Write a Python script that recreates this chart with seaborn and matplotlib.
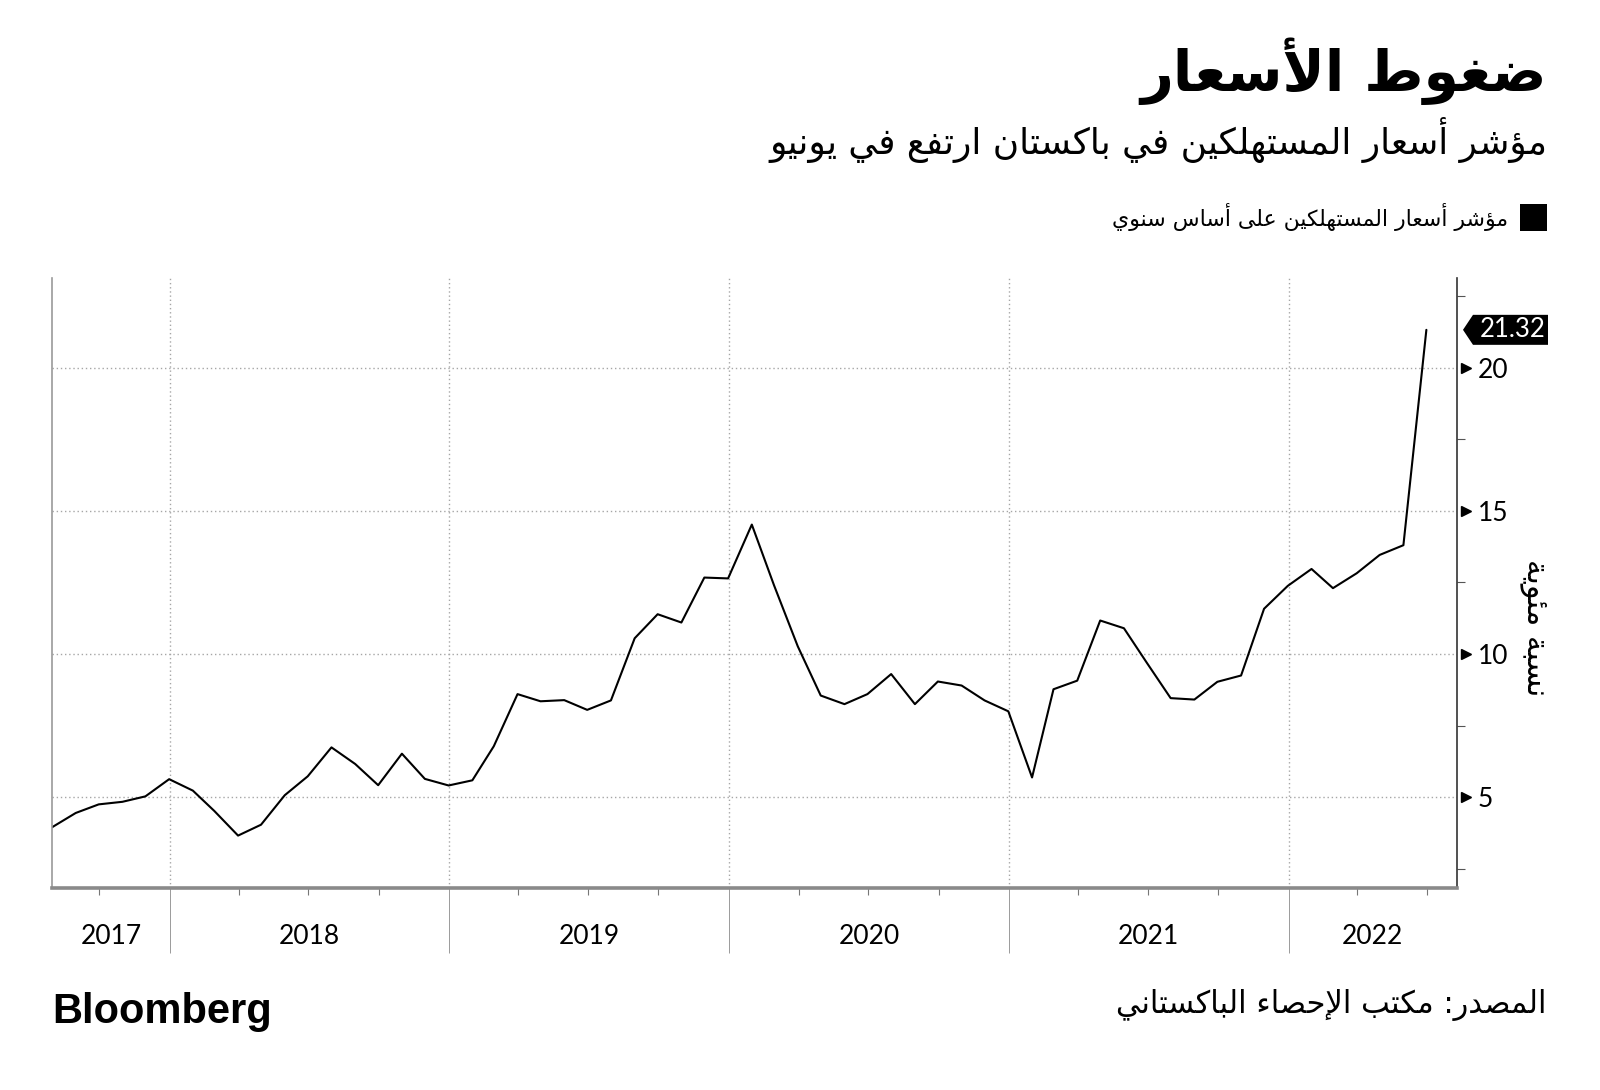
import numpy as np
import pandas as pd
import matplotlib
matplotlib.use("Agg")
import matplotlib.pyplot as plt
import matplotlib.dates as mdates
import matplotlib.transforms as mtransforms
from matplotlib.patches import Polygon, Rectangle
import seaborn as sns

# ---------------- data ----------------
start_month = "2017-07"
cpi_2017 = [3.95, 4.45, 4.75, 4.84, 5.03, 5.63]
cpi_2018 = [5.23, 4.52, 3.66, 4.04, 5.07, 5.73, 6.74, 6.16, 5.42, 6.52, 5.64, 5.41]
cpi_2019 = [5.59, 6.78, 8.60, 8.35, 8.39, 8.05, 8.38, 10.55, 11.39, 11.10, 12.67, 12.64]
cpi_2020 = [14.52, 12.40, 10.27, 8.55, 8.25, 8.60, 9.30, 8.25, 9.04, 8.90, 8.38, 8.00]
cpi_2021 = [5.69, 8.77, 9.07, 11.17, 10.90, 9.69, 8.46, 8.41, 9.03, 9.25, 11.58, 12.38]
cpi_2022 = [12.97, 12.30, 12.82, 13.46, 13.80, 21.32]
years = [2017, 2018, 2019, 2020, 2021, 2022]
y_ticks = [5, 10, 15, 20]

title = "ضغوط الأسعار"
subtitle = "مؤشر أسعار المستهلكين في باكستان ارتفع في يونيو"
legend_label = "مؤشر أسعار المستهلكين على أساس سنوي"
y_label = "نسبة مئوية"
source = "المصدر: مكتب الإحصاء الباكستاني"

values = cpi_2017 + cpi_2018 + cpi_2019 + cpi_2020 + cpi_2021 + cpi_2022
dates = pd.date_range(start=start_month, periods=len(values), freq="ME")
df = pd.DataFrame({"date": dates, "cpi": values})

# ---------------- minimal Arabic shaping ----------------
DUAL = {0x626: 0xFE89, 0x628: 0xFE8F, 0x62A: 0xFE95, 0x62B: 0xFE99, 0x62C: 0xFE9D,
        0x62D: 0xFEA1, 0x62E: 0xFEA5, 0x633: 0xFEB1, 0x634: 0xFEB5, 0x635: 0xFEB9,
        0x636: 0xFEBD, 0x637: 0xFEC1, 0x638: 0xFEC5, 0x639: 0xFEC9, 0x63A: 0xFECD,
        0x641: 0xFED1, 0x642: 0xFED5, 0x643: 0xFED9, 0x644: 0xFEDD, 0x645: 0xFEE1,
        0x646: 0xFEE5, 0x647: 0xFEE9, 0x64A: 0xFEF1}
RIGHT = {0x622: 0xFE81, 0x623: 0xFE83, 0x624: 0xFE85, 0x625: 0xFE87, 0x627: 0xFE8D,
         0x629: 0xFE93, 0x62F: 0xFEA9, 0x630: 0xFEAB, 0x631: 0xFEAD, 0x632: 0xFEAF,
         0x648: 0xFEED, 0x649: 0xFEEF}
LAMALEF = {0x622: 0xFEF5, 0x623: 0xFEF7, 0x625: 0xFEF9, 0x627: 0xFEFB}


def shape(s):
    units = []
    i = 0
    while i < len(s):
        c = ord(s[i])
        if c == 0x644 and i + 1 < len(s) and ord(s[i + 1]) in LAMALEF:
            units.append(("LA", ord(s[i + 1])))
            i += 2
        else:
            units.append(("C", c))
            i += 1

    def joins_next(u):
        return u[0] == "C" and u[1] in DUAL

    def joins_prev(u):
        return u[0] == "LA" or u[1] in DUAL or u[1] in RIGHT

    out = []
    for k, u in enumerate(units):
        t, c = u
        prev = units[k - 1] if k > 0 else None
        nxt = units[k + 1] if k + 1 < len(units) else None
        cp = prev is not None and joins_next(prev) and joins_prev(u)
        cn = nxt is not None and joins_next(u) and joins_prev(nxt)
        if t == "LA":
            out.append(chr(LAMALEF[c] + (1 if cp else 0)))
        elif c in DUAL:
            form = 3 if (cp and cn) else 2 if cn else 1 if cp else 0
            out.append(chr(DUAL[c] + form))
        elif c in RIGHT:
            out.append(chr(RIGHT[c] + (1 if cp else 0)))
        elif c == 0x621:
            out.append("\uFE80")
        else:
            out.append(chr(c))
    return "".join(reversed(out))


# ---------------- style ----------------
sns.set_theme(style="white")
plt.rcParams["font.family"] = ["Lato", "DejaVu Sans"]
plt.rcParams["text.color"] = "black"
plt.rcParams["xtick.color"] = "black"
plt.rcParams["ytick.color"] = "black"
AR = ["DejaVu Sans"]
GRID = "#a6a6a6"

W, H = 1600, 1090
fig = plt.figure(figsize=(W / 100, H / 100), dpi=100)
fig.patch.set_facecolor("white")
ax_left, ax_right, ax_top, ax_bot = 52, 1457, 278, 888
ax = fig.add_axes([ax_left / W, 1 - ax_bot / H, (ax_right - ax_left) / W, (ax_bot - ax_top) / H])

sns.lineplot(data=df, x="date", y="cpi", ax=ax, color="black", linewidth=1.5, legend=False)

xmin = pd.Timestamp("2017-07-31")
xmax = pd.Timestamp("2022-08-09")
ax.set_xlim(xmin, xmax)
ax.set_ylim(1.83, 23.13)

# y axis on the right
ax.yaxis.tick_right()
ax.set_yticks(y_ticks)
ax.set_yticks([2.5, 7.5, 12.5, 17.5, 22.5], minor=True)
ax.tick_params(axis="y", which="major", length=0, pad=15, labelsize=19, labelcolor="black")
ax.tick_params(axis="y", which="minor", right=True, length=6, width=0.8, color="#555555")
ax.set_ylabel("")
ax.set_xlabel("")

# x axis: year boundaries as long ticks, quarterly minor ticks
year_starts = [pd.Timestamp(f"{y}-01-01") for y in years[1:]]
ax.set_xticks(year_starts)
ax.set_xticklabels([""] * len(year_starts))
quarters = [pd.Timestamp(f"{y}-{m:02d}-01") for y in years for m in (4, 7, 10)]
quarters = [q for q in quarters if xmin < q < xmax]
ax.set_xticks(quarters, minor=True)
ax.tick_params(axis="x", which="major", bottom=True, length=47, width=0.7, color="#9a9a9a", direction="out")
ax.tick_params(axis="x", which="minor", bottom=True, length=5, width=0.8, color="#777777", direction="out")

# grid
ax.grid(True, which="major", axis="both", color=GRID, linestyle=(0, (1, 2)), linewidth=1.0)
ax.set_axisbelow(True)

ax.spines["top"].set_visible(False)
ax.spines["left"].set_color("#9a9a9a")
ax.spines["left"].set_linewidth(1.2)
ax.spines["bottom"].set_color("#8a8a8a")
ax.spines["bottom"].set_linewidth(2.6)
ax.spines["right"].set_color("#333333")
ax.spines["right"].set_linewidth(1.2)

# year labels centred in visible spans
xt = ax.get_xaxis_transform()
for y in years:
    a = max(pd.Timestamp(f"{y}-01-01"), xmin)
    b = min(pd.Timestamp(f"{y + 1}-01-01"), xmax)
    mid = a + (b - a) / 2
    ax.text(mid, -0.08, str(y), transform=xt, ha="center", va="center", fontsize=19, color="black")

# tick stubs + triangle markers on major y ticks
yt = ax.get_yaxis_transform()
off = mtransforms.offset_copy(yt, fig=fig, x=9, y=0, units="dots")
ax.plot([1.0] * len(y_ticks), y_ticks, ls="none", marker=">", ms=7, color="black",
        transform=off, clip_on=False)

# last value tag
fig.canvas.draw()
last_val = values[-1]
px_axis = ax.transAxes.transform((1.0, 0))[0]
py = ax.transData.transform((mdates.date2num(xmin), last_val))[1]
tip = px_axis + 6
box_l, box_r = px_axis + 16, px_axis + 91
hh = 15
tag = Polygon([(tip, py), (box_l, py + hh), (box_r, py + hh), (box_r, py - hh), (box_l, py - hh)],
              closed=True, facecolor="black", edgecolor="none", transform=None, clip_on=False)
fig.add_artist(tag)
fig.text((box_l + box_r + 4) / 2 / W, py / H, f"{last_val:.2f}", ha="center", va="center",
         color="white", fontsize=18.5)

# y label
fig.text(1534 / W, 1 - 628 / H, shape(y_label), rotation=-90, ha="center", va="center",
         fontsize=22, family=AR)

# titles
fig.text(1547 / W, 1 - 71 / H, shape(title), ha="right", va="center", fontsize=41,
         fontweight="bold", family=AR)
fig.text(1547 / W, 1 - 140 / H, shape(subtitle), ha="right", va="center", fontsize=25.8, family=AR)

# legend
fig.add_artist(Rectangle((1520 / W, 1 - 231 / H), 27 / W, 27 / H, transform=fig.transFigure,
                         facecolor="black", edgecolor="none"))
fig.text(1508 / W, 1 - 217 / H, shape(legend_label), ha="right", va="center", fontsize=15.8, family=AR)

# footer
fig.text(52 / W, 1 - 1023 / H, "Bloomberg", ha="left", va="baseline", fontsize=30,
         fontweight="bold", family=["Liberation Sans", "DejaVu Sans"])
fig.text(1547 / W, 1 - 1005 / H, shape(source), ha="right", va="center", fontsize=22, family=AR)

fig.savefig("out.png", dpi=100, facecolor="white")
